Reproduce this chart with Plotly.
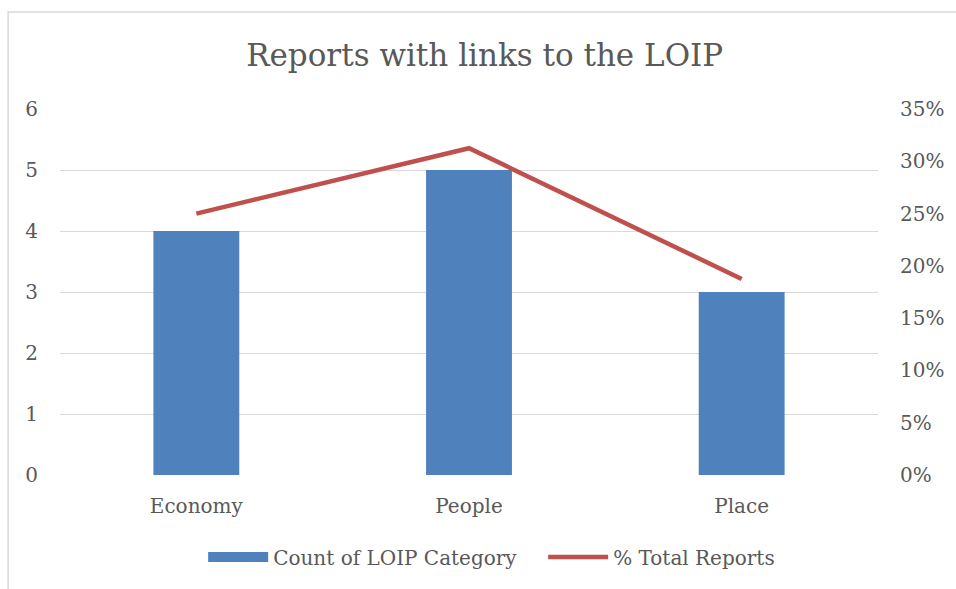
import plotly.graph_objects as go

categories = ["Economy", "People", "Place"]
counts = [4, 5, 3]
pct_total = [0.25, 0.3125, 0.1875]

FONT = "DejaVu Serif"
GRAY = "#595959"
BLUE = "#4F81BD"
RED = "#C0504D"

fig = go.Figure()
fig.add_trace(go.Bar(
    x=categories, y=counts, name="Count of LOIP Category",
    marker=dict(color=BLUE, line=dict(width=0)), yaxis="y",
    showlegend=False, legendgroup="count",
))
# legend proxy for the bar series (wide box symbol like the original)
fig.add_trace(go.Scatter(
    x=[None], y=[None], name="Count of LOIP Category", mode="lines",
    line=dict(color=BLUE, width=12), legendgroup="count", hoverinfo="skip",
))
fig.add_trace(go.Scatter(
    x=categories, y=pct_total, name="% Total Reports", mode="lines",
    line=dict(color=RED, width=4.5), yaxis="y2",
))

fig.update_layout(
    width=956, height=589,
    margin=dict(l=60, r=76, t=109, b=114),
    paper_bgcolor="white", plot_bgcolor="white",
    font=dict(family=FONT, color=GRAY, size=20),
    title=dict(text="Reports with links to the LOIP", x=0.507, xanchor="center",
               y=0.907, yanchor="middle", font=dict(size=31, color=GRAY, family=FONT)),
    bargap=0.685,
    xaxis=dict(type="category", showgrid=False, showline=False, zeroline=False,
               ticks="", ticklabelstandoff=17, tickfont=dict(size=20, color=GRAY)),
    yaxis=dict(range=[0, 6], dtick=1, showgrid=True, gridcolor="#D9D9D9", gridwidth=1.3,
               zeroline=False, showline=False, ticks="", ticklabelstandoff=21,
               tickfont=dict(size=20, color=GRAY)),
    yaxis2=dict(range=[0, 0.35], dtick=0.05, tickformat=".0%", overlaying="y", side="right",
                showgrid=False, zeroline=False, showline=False, ticks="", ticklabelstandoff=21,
                tickfont=dict(size=20, color=GRAY)),
    legend=dict(orientation="h", x=0.175, xanchor="left", y=-0.224, yanchor="middle",
                font=dict(size=20, color=GRAY, family=FONT), traceorder="normal",
                itemwidth=60, entrywidth=265, entrywidthmode="pixels"),
    showlegend=True,
)

# chart area border (top and left edges visible in frame)
fig.add_shape(type="rect", xref="paper", yref="paper",
              x0=(8 - 60) / 820, x1=(970 - 60) / 820,
              y0=(475 - 600) / 366, y1=(475 - 12) / 366,
              line=dict(color="#D9D9D9", width=1.5), fillcolor="rgba(0,0,0,0)", layer="below")

fig.write_html("out.html", config={"displayModeBar": False},
               post_script="document.body.style.margin='0';")
